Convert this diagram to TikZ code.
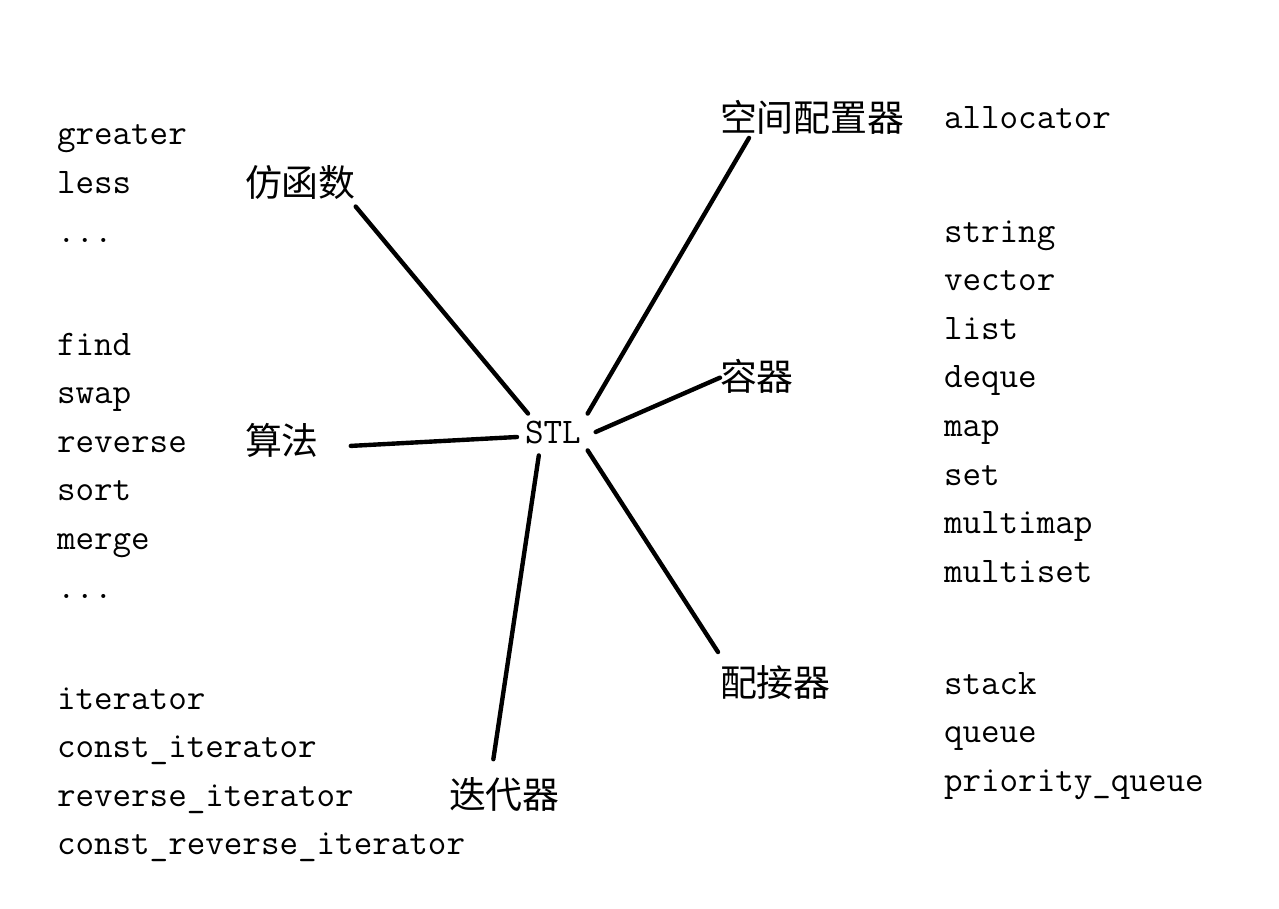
\documentclass[tikz,border=0pt]{standalone}
\usepackage{fontspec}
\newfontfamily\cjk{Noto Sans CJK SC}
\usetikzlibrary{calc}
\newcommand\moreitems{...}
\tikzset{
  word/.style={anchor=base west, inner sep=0pt, outer sep=0pt, font=\ttfamily\fontsize{20.5}{24}\selectfont},
  part/.style={anchor=base west, inner sep=0pt, outer sep=0pt, font=\cjk\fontsize{21}{24}\selectfont},
  link/.style={line width=2.5pt, line cap=round},
}

\begin{document}
\begin{tikzpicture}[x=0.02cm, y=-0.02cm]
  \useasboundingbox (0,0) rectangle (1279,909);
  % centre
  \node[word] (stl) at (525,443) {STL};
  % the six parts
  \node[part] (fan) at (245,196) {仿函数};
  \node[part] (suan) at (245,454.5) {算法};
  \node[part] (diedai) at (449,808.7) {迭代器};
  \node[part] (kongjian) at (720,131.5) {空间配置器};
  \node[part] (rong) at (720,390.3) {容器};
  \node[part] (peijie) at (720,696.5) {配接器};
  % members of each part
  \foreach \w [count=\i] in {greater,less,\moreitems}
    \node[word] (fan\i) at (57,{145+48.6*(\i-1)}) {\w};
  \foreach \w [count=\i] in {find,swap,reverse,sort,merge,\moreitems}
    \node[word] (suan\i) at (57,{355+48.6*(\i-1)}) {\w};
  \foreach \w [count=\i] in {iterator,const\_iterator,reverse\_iterator,const\_reverse\_iterator}
    \node[word] (diedai\i) at (57,{709+48.6*(\i-1)}) {\w};
  \node[word] (kongjian1) at (944,129) {allocator};
  \foreach \w [count=\i] in {string,vector,list,deque,map,set,multimap,multiset}
    \node[word] (rong\i) at (944,{242+48.6*(\i-1)}) {\w};
  \foreach \w [count=\i] in {stack,queue,priority\_queue}
    \node[word] (peijie\i) at (944,{694+48.6*(\i-1)}) {\w};
  % spokes
  \draw[link] ($(fan.south east)+(0,7.5)$) -- ($(stl.north west)+(3,-7)$);
  \draw[link] ($(kongjian.south west)+(29,3.5)$) -- ($(stl.north east)+(7,-7)$);
  \draw[link] ($(stl.east)+(15,0)$) -- ($(rong.west)+(0,1.5)$);
  \draw[link] ($(suan.east)+(32,5.5)$) -- ($(stl.west)+(-8,5)$);
  \draw[link] ($(stl.south)+(-14,12)$) -- ($(diedai.north)+(-11,-18.5)$);
  \draw[link] ($(stl.south east)+(7,7)$) -- ($(peijie.north west)+(-2,-13.5)$);
\end{tikzpicture}
\end{document}
